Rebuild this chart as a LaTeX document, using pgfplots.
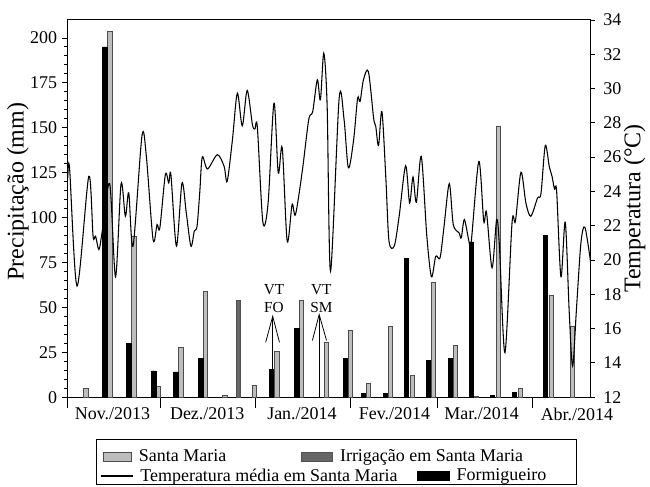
\documentclass[border=0pt]{standalone}
\usepackage{fontspec}
\setmainfont{Liberation Serif}
\usepackage{pgfplots}
\pgfplotsset{compat=1.18}

\definecolor{smfill}{gray}{0.74}
\definecolor{smdraw}{gray}{0.30}
\definecolor{irfill}{gray}{0.40}

\pgfplotsset{
  barlegend/.style={legend image code/.code={\draw[##1,/tikz/.cd] (0pt,-3.4pt) rectangle (#1,3.4pt);}},
  linelegend/.style={legend image code/.code={\draw[##1,/tikz/.cd] (0pt,0pt) -- (24pt,0pt);}},
}

\begin{document}
\begin{tikzpicture}[font=\fontsize{13.5}{16}\selectfont]
\begin{axis}[
  name=main,
  scale only axis, width=393pt, height=283.5pt,
  xmin=0, xmax=170, ymin=0, ymax=210,
  axis line style={line width=0.75pt},
  tick style={line width=0.6pt, black},
  tick align=outside,
  major tick length=4.5pt, minor tick length=2.6pt,
  xtick pos=left, ytick pos=left,
  ytick={0,25,...,200}, minor y tick num=4,
  xtick={14.5,45.3,76.1,106.2,134.5,165.5},
  xticklabels={Nov./2013,Dez./2013,Jan./2014,Fev./2014,Mar./2014,Abr./2014},
  major x tick style={draw=none},
  extra x ticks={0,30,61,92,120,151},
  extra x tick labels={},
  extra x tick style={major tick length=8pt, major x tick style={draw=black}},
  /pgf/number format/assume math mode=true,
  ylabel={Precipitação (mm)},
  ylabel style={font=\fontsize{18}{20}\selectfont, at={(axis description cs:-0.0954,0.545)}, anchor=center},
  legend columns=2,
  legend style={draw=none, fill=none, at={(0.0668,-0.157)}, anchor=west, inner sep=0pt,
    nodes={inner sep=0pt},
    /tikz/every odd column/.append style={column sep=5.5pt},
    /tikz/every even column/.append style={column sep=56pt}},
]
% Santa Maria
\addplot[ybar, bar width=1.4, bar shift=0pt, fill=smfill, draw=smdraw, line width=0.5pt, barlegend=21pt] coordinates {
(5.8,5) (13.6,203.5) (21.4,89.3) (29.5,6) (36.7,27.9) (44.8,58.7) (51.0,0.8)
(60.7,6.5) (67.9,25.4) (76.0,53.7) (84.1,30.7) (91.9,37.4) (97.7,7.8)
(104.9,39.6) (112.0,12.2) (118.8,63.7) (126.0,28.9) (132.8,0.6) (139.9,151)
(147.1,5) (157.1,56.7) (164.0,39.6)
};
\addlegendentry{Santa Maria}
% Irrigacao
\addplot[ybar, bar width=1.4, bar shift=0pt, fill=irfill, draw=irfill!80!black, line width=0.5pt, barlegend=23.5pt] coordinates {
(55.5,53.9)
};
\addlegendentry{Irrigação em Santa Maria}
% Formigueiro
\addplot[ybar, bar width=1.4, bar shift=0pt, fill=black, draw=black, line width=0.5pt, forget plot] coordinates {
(12.0,195) (19.8,30) (27.9,14.6) (35.1,14.1) (43.2,21.5) (66.2,15.6) (74.4,38.5)
(90.3,21.5) (96.1,2) (103.2,2) (110.1,77.2) (117.2,20.5) (124.4,21.7)
(131.2,86.4) (138.0,1) (145.1,2.6) (155.2,90)
};
% VT marks
\draw[line width=0.6pt] (axis cs:66.6,15.6) -- (axis cs:66.6,45);
\draw[line width=0.6pt] (axis cs:64.3,30.5) -- (axis cs:66.6,45) -- (axis cs:68.8,30.5);
\node[font=\fontsize{11.5}{13.5}\selectfont, align=center] at (axis cs:67.0,55) {VT\\FO};
\draw[line width=0.6pt] (axis cs:81.7,0) -- (axis cs:81.7,46);
\draw[line width=0.6pt] (axis cs:79.5,31.6) -- (axis cs:81.7,46) -- (axis cs:84.1,31.6);
\node[font=\fontsize{11.5}{13.5}\selectfont, align=center] at (axis cs:82.4,55) {VT\\SM};
\end{axis}

\begin{axis}[
  scale only axis, width=393pt, height=283.5pt,
  xmin=0, xmax=170, ymin=12, ymax=34,
  axis x line=none, axis y line*=right,
  axis line style={line width=0.75pt},
  tick style={line width=0.6pt, black},
  tick align=outside, major tick length=3pt,
  ytick={12,14,...,34},
  yticklabel style={xshift=3pt},
  /pgf/number format/assume math mode=true,
  ylabel={Temperatura (°C)},
  ylabel style={font=\fontsize{18}{20}\selectfont, at={(axis description cs:1.084,0.5)}, anchor=center},
  legend columns=2,
  legend style={draw=none, fill=none, at={(0.0611,-0.209)}, anchor=west, inner sep=0pt,
    nodes={inner sep=0pt},
    /tikz/every odd column/.append style={column sep=5.5pt},
    /tikz/every even column/.append style={column sep=15pt}},
]
\addplot[smooth, black, line width=0.8pt, linelegend] coordinates {
(0,24.8) (0.55,25.37) (3.0,18.48) (6.8,24.88) (8.2,21.39) (9.0,21.39) (10.1,20.61)
(11.1,21.58) (13.6,24.45) (15.5,19.02) (17.3,24.45) (18.7,22.55) (19.8,23.91)
(21.2,20.81) (24.1,27.25) (25.5,26.08) (27.7,21.19) (29.0,22.07) (29.9,21.87)
(31.7,24.98) (32.8,24.49) (33.5,24.98) (35.3,20.81) (37.1,24.49) (38.5,22.75)
(40.0,20.81) (41.1,21.68) (42.0,21.97) (42.9,24.0) (43.7,26.01) (45.4,25.31)
(48.6,26.14) (50.8,25.46) (51.8,24.59) (53.5,27.01) (55.1,29.73) (56.7,27.83)
(58.3,29.89) (60.0,27.89) (60.8,27.64) (61.6,27.75) (63.4,22.20) (65.1,23.33)
(67.0,29.15) (68.4,25.08) (69.7,26.53) (71.3,21.10) (72.9,23.23) (74.0,22.65)
(76.2,25.17) (78.3,28.18) (79.6,28.66) (81.1,30.51) (82.1,29.34) (83.2,32.06)
(84.3,28.95) (85.4,19.35) (88.2,29.44) (89.8,28.18) (91.2,25.37) (92.9,27.01)
(94.2,29.44) (95.0,29.25) (96.1,30.51) (97.7,30.99) (99.4,28.28) (100.1,27.79)
(101.0,26.67) (102.1,28.66) (103.4,24.69) (104.4,21.10) (106.1,20.81) (107.7,22.55)
(109.8,25.5) (111.1,23.33) (112.2,24.84) (113.3,23.37) (114.9,26.04) (116.7,21.39)
(118.2,19.02) (119.6,20.22) (121.0,20.13) (122.3,21.97) (124.0,24.45) (125.3,22.07)
(127.2,21.58) (127.9,21.3) (128.9,22.36) (130.3,21.19) (131.1,21.0) (133.6,25.75)
(135.2,22.26) (136.1,22.78) (137.9,19.55) (139.4,22.36) (140.3,20.81) (142.1,14.60)
(144.4,22.17) (145.5,22.26) (147.3,25.12) (148.9,23.33) (150.5,22.55) (152.7,23.62)
(153.8,23.87) (155.2,26.67) (156.5,25.46) (157.4,24.88) (158.2,24.14) (158.9,24.01)
(160.3,19.02) (161.7,22.20) (163.0,16.93) (164.1,13.82) (165.4,17.31) (166.8,21.0)
(168.1,21.91) (170.0,19.80)
};
\addlegendentry{Temperatura média em Santa Maria}
\addlegendimage{barlegend=23.5pt, fill=black, draw=black}
\addlegendentry{Formigueiro}
\end{axis}

\draw[line width=0.75pt] ([shift={(21.75pt,-31.5pt)}]main.south west) rectangle ([shift={(382.5pt,-65.25pt)}]main.south west);
\path ([shift={(-51pt,-67.5pt)}]main.south west) rectangle ([shift={(43.5pt,15pt)}]main.north east);
\end{tikzpicture}
\end{document}
